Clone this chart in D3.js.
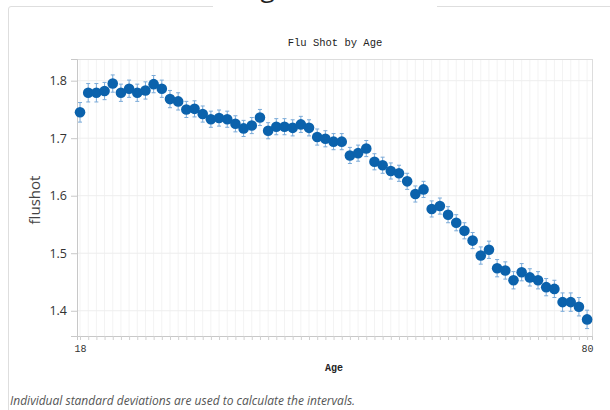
<!DOCTYPE html>
<html>
<head>
<meta charset="utf-8">
<script src="https://cdn.jsdelivr.net/npm/d3@7"></script>
<style>
  body { margin: 0; background: #fff; }
  svg { display: block; }
</style>
</head>
<body>
<svg id="chart" width="610" height="410"></svg>
<script>
// ages 18..80, mean flushot per age, and interval half widths
const ages = [18,19,20,21,22,23,24,25,26,27,28,29,30,31,32,33,34,35,36,37,38,39,40,41,42,43,44,45,46,47,48,49,50,51,52,53,54,55,56,57,58,59,60,61,62,63,64,65,66,67,68,69,70,71,72,73,74,75,76,77,78,79,80];
const means = [1.745,1.779,1.779,1.782,1.795,1.779,1.786,1.779,1.783,1.794,1.786,1.768,1.764,1.750,1.751,1.742,1.733,1.735,1.733,1.725,1.717,1.722,1.736,1.713,1.720,1.720,1.718,1.724,1.718,1.702,1.699,1.694,1.694,1.670,1.674,1.682,1.659,1.653,1.643,1.639,1.625,1.603,1.611,1.577,1.582,1.567,1.553,1.539,1.522,1.496,1.506,1.474,1.470,1.453,1.467,1.458,1.453,1.441,1.438,1.415,1.415,1.407,1.385];
const errs = [0.017,0.016,0.016,0.015,0.015,0.015,0.015,0.015,0.015,0.015,0.015,0.015,0.015,0.014,0.014,0.014,0.014,0.014,0.014,0.014,0.014,0.014,0.014,0.014,0.014,0.014,0.014,0.014,0.014,0.014,0.014,0.014,0.014,0.014,0.014,0.014,0.014,0.014,0.014,0.014,0.014,0.014,0.014,0.014,0.014,0.014,0.014,0.014,0.014,0.015,0.015,0.015,0.015,0.015,0.015,0.015,0.015,0.015,0.015,0.016,0.016,0.016,0.016];
const yTicks = [1.4, 1.5, 1.6, 1.7, 1.8];
const xLabels = [18, 80];

const data = ages.map((a, i) => ({ age: a, mean: means[i], err: errs[i] }));

const svg = d3.select("#chart");
let margin = { top: 59, right: 18, bottom: 74, left: 77 };
const W = 610, H = 410;
const pw = W - margin.left - margin.right;
const ph = H - margin.top - margin.bottom;

// card frame with a gap where the heading sits
svg.append("path")
    .attr("d", "M8.5,410 L8.5,9 Q8.5,6.5 11,6.5 L213,6.5")
    .attr("fill", "none").attr("stroke", "#dedede");
svg.append("line")
    .attr("x1", 437).attr("x2", 610).attr("y1", 6.5).attr("y2", 6.5)
    .attr("stroke", "#dedede");
svg.append("text")
    .attr("x", 244).attr("y", -3)
    .attr("font-family", "Open Sans, sans-serif")
    .attr("font-size", 26)
    .attr("fill", "#222")
    .text("Age");

const x = d3.scaleLinear().domain([17.63, 80.6]).range([0, pw]);
const y = d3.scaleLinear().domain([1.3561, 1.8377]).range([ph, 0]);

const g = svg.append("g").attr("transform", `translate(${margin.left},${margin.top})`);

// grid
g.selectAll(".vgrid").data(ages).join("line")
    .attr("x1", d => x(d)).attr("x2", d => x(d))
    .attr("y1", 0).attr("y2", ph)
    .attr("stroke", "#f3f3f3");
g.selectAll(".hgrid").data(yTicks).join("line")
    .attr("x1", 0).attr("x2", pw)
    .attr("y1", d => y(d)).attr("y2", d => y(d))
    .attr("stroke", "#eeeeee");

// frame
g.append("rect").attr("x", 0.5).attr("y", 0.5).attr("width", pw).attr("height", ph)
    .attr("fill", "none").attr("stroke", "#dddddd");

// y axis
const yAxis = g.append("g").call(d3.axisLeft(y).tickValues(yTicks).tickFormat(d3.format(".1f")).tickSize(6).tickPadding(4));
yAxis.select(".domain").attr("stroke", "#c8c8c8");
yAxis.selectAll(".tick line").attr("stroke", "#c8c8c8");
yAxis.selectAll("text")
    .attr("font-family", "Open Sans, sans-serif")
    .attr("font-size", 12.5)
    .attr("fill", "#333");

// x axis with small ticks for every age
const xAxis = g.append("g").attr("transform", `translate(0,${ph})`)
    .call(d3.axisBottom(x).tickValues(ages).tickSize(4).tickFormat(d => xLabels.includes(d) ? d : ""));
xAxis.select(".domain").attr("stroke", "#c8c8c8");
xAxis.selectAll(".tick line").attr("stroke", "#d0d0d0");
xAxis.selectAll("text")
    .attr("font-family", "Liberation Mono, monospace")
    .attr("font-size", 10)
    .attr("fill", "#333")
    .attr("dy", "0.9em");

// error bars
const eb = g.append("g").attr("stroke", "#7aaad8").attr("stroke-width", 1);
eb.selectAll(".bar").data(data).join("line")
    .attr("x1", d => x(d.age)).attr("x2", d => x(d.age))
    .attr("y1", d => y(d.mean - d.err)).attr("y2", d => y(d.mean + d.err));
eb.selectAll(".capt").data(data).join("line")
    .attr("x1", d => x(d.age) - 2).attr("x2", d => x(d.age) + 2)
    .attr("y1", d => y(d.mean + d.err)).attr("y2", d => y(d.mean + d.err));
eb.selectAll(".capb").data(data).join("line")
    .attr("x1", d => x(d.age) - 2).attr("x2", d => x(d.age) + 2)
    .attr("y1", d => y(d.mean - d.err)).attr("y2", d => y(d.mean - d.err));

// points
g.selectAll("circle").data(data).join("circle")
    .attr("cx", d => x(d.age))
    .attr("cy", d => y(d.mean))
    .attr("r", 5.3)
    .attr("fill", "#0b62ac");

// titles
svg.append("text")
    .attr("x", 335).attr("y", 46)
    .attr("text-anchor", "middle")
    .attr("font-family", "Liberation Mono, monospace")
    .attr("font-size", 10.5)
    .attr("fill", "#222")
    .text("Flu Shot by Age");
svg.append("text")
    .attr("x", 334).attr("y", 371)
    .attr("text-anchor", "middle")
    .attr("font-family", "Liberation Mono, monospace")
    .attr("font-weight", "bold")
    .attr("font-size", 10)
    .attr("fill", "#222")
    .text("Age");
svg.append("text")
    .attr("transform", "translate(40,200) rotate(-90)")
    .attr("text-anchor", "middle")
    .attr("font-family", "Open Sans, sans-serif")
    .attr("font-size", 15)
    .attr("fill", "#444")
    .text("flushot");

// footnote
svg.append("text")
    .attr("x", 10).attr("y", 405)
    .attr("font-family", "Open Sans, sans-serif")
    .attr("font-style", "italic")
    .attr("font-size", 12)
    .attr("fill", "#555")
    .text("Individual standard deviations are used to calculate the intervals.");
</script>
</body>
</html>
